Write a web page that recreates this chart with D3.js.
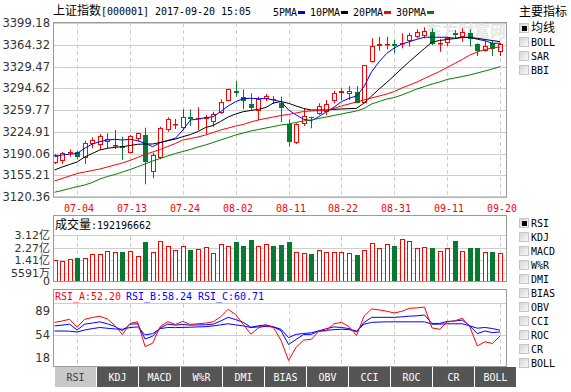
<!DOCTYPE html>
<html lang="zh">
<head>
<meta charset="UTF-8">
<title>上证指数 K线</title>
<script src="https://cdn.jsdelivr.net/npm/d3@7"></script>
<style>
    html, body { margin: 0; background: #fff; }
    svg { display: block; }
</style>
</head>
<body>
<div id="chart"></div>
<script>
// ---- data ----
const dates = ["06-29","06-30","07-03","07-04","07-05","07-06","07-07","07-10","07-11","07-12",
    "07-13","07-14","07-17","07-18","07-19","07-20","07-21","07-24","07-25","07-26",
    "07-27","07-28","07-31","08-01","08-02","08-03","08-04","08-07","08-08","08-09",
    "08-10","08-11","08-14","08-15","08-16","08-17","08-18","08-21","08-22","08-23",
    "08-24","08-25","08-28","08-29","08-30","08-31","09-01","09-04","09-05","09-06",
    "09-07","09-08","09-11","09-12","09-13","09-14","09-15","09-18","09-19","09-20"];

const open = [3175.4,3178.5,3190.4,3192.5,3182.4,3204.8,3203.7,3208.9,3201.3,3202.6,
    3191.4,3212.8,3219.7,3160.9,3182.4,3227.7,3236.2,3230.4,3248.1,3244.9,
    3244.9,3241.0,3254.5,3274.7,3289.7,3280.6,3268.9,3258.6,3276.9,3277.9,
    3270.5,3236.9,3206.4,3237.3,3248.6,3253.4,3257.0,3274.7,3287.5,3285.4,
    3289.1,3271.4,3337.2,3362.3,3363.4,3365.0,3365.5,3370.8,3377.2,3378.3,
    3385.2,3365.5,3367.6,3382.7,3376.3,3383.6,3365.5,3354.8,3366.6,3353.2];
const high = [3189.3,3192.5,3196.8,3194.1,3210.6,3216.0,3221.3,3222.4,3227.7,3217.0,
    3219.7,3223.4,3231.4,3191.4,3233.0,3248.1,3245.4,3260.9,3260.9,3264.1,
    3251.8,3257.0,3276.9,3293.9,3306.2,3292.9,3286.5,3281.1,3285.4,3282.2,
    3281.1,3244.9,3238.5,3262.5,3249.0,3270.5,3275.8,3290.7,3294.5,3298.2,
    3298.2,3331.9,3374.7,3377.2,3377.2,3371.9,3382.7,3383.6,3389.1,3392.3,
    3390.7,3373.1,3377.2,3387.9,3390.7,3389.1,3366.6,3370.8,3370.8,3367.6];
const low = [3173.3,3173.3,3184.9,3181.3,3173.3,3198.4,3195.7,3198.4,3197.3,3179.7,
    3190.1,3208.9,3140.7,3150.3,3180.8,3225.0,3229.3,3227.7,3234.2,3227.7,
    3221.3,3233.0,3253.4,3273.7,3281.1,3260.9,3259.8,3243.7,3274.2,3269.4,
    3240.5,3201.0,3205.3,3234.2,3230.4,3251.8,3251.8,3270.5,3275.8,3275.8,
    3270.5,3270.5,3335.6,3354.8,3357.0,3350.6,3358.6,3361.2,3374.7,3374.7,
    3363.9,3353.2,3362.3,3374.7,3369.2,3361.2,3346.3,3353.2,3346.3,3346.3];
const close = [3187.7,3191.4,3193.0,3184.0,3206.4,3211.7,3218.1,3213.3,3202.9,3198.4,
    3218.1,3222.4,3177.0,3187.7,3230.4,3244.9,3237.3,3249.0,3244.9,3246.5,
    3249.0,3252.9,3272.6,3292.9,3287.5,3274.7,3262.9,3277.9,3281.7,3275.8,
    3262.5,3208.9,3236.9,3250.2,3246.9,3266.6,3268.9,3286.5,3290.7,3289.7,
    3271.4,3331.9,3362.3,3365.5,3365.0,3362.8,3367.6,3379.9,3385.2,3386.8,
    3365.5,3367.6,3374.7,3380.4,3385.2,3373.1,3354.8,3362.3,3358.1,3365.5];

const ma5 = [3185.0,3187.7,3189.0,3190.1,3198.4,3205.3,3209.0,3211.7,3212.8,3211.7,
    3212.8,3210.6,3206.4,3201.0,3207.4,3210.9,3214.4,3227.7,3243.7,3245.4,
    3247.4,3249.0,3257.1,3266.2,3273.1,3277.9,3278.5,3277.9,3277.9,3275.8,
    3273.1,3259.8,3251.8,3244.9,3242.6,3249.0,3257.1,3264.1,3273.1,3278.5,
    3282.2,3297.1,3321.2,3337.2,3350.6,3359.1,3365.5,3369.2,3373.1,3376.3,
    3376.3,3376.3,3376.3,3374.7,3376.3,3376.3,3373.1,3370.8,3366.7,3366.7];
const ma10 = [3163.6,3168.4,3172.4,3176.5,3184.5,3190.1,3195.7,3198.4,3200.0,3201.0,
    3202.9,3204.8,3205.3,3205.3,3207.7,3210.6,3213.3,3217.0,3220.5,3225.3,
    3231.7,3234.9,3241.4,3248.6,3253.4,3257.1,3259.0,3260.9,3263.8,3271.0,
    3273.4,3270.5,3266.2,3262.2,3259.8,3259.8,3259.8,3260.6,3261.4,3261.9,
    3262.5,3271.0,3282.2,3293.4,3303.8,3315.1,3326.3,3337.5,3347.9,3358.3,
    3368.7,3371.1,3372.7,3374.3,3375.9,3375.9,3374.7,3372.7,3371.1,3369.2];
const ma20 = [3146.0,3150.0,3154.0,3158.0,3160.4,3162.8,3165.2,3168.4,3171.7,3174.9,
    3178.9,3183.7,3188.5,3192.5,3196.5,3201.3,3206.1,3211.7,3214.1,3216.5,
    3219.7,3223.7,3227.7,3230.9,3234.1,3236.5,3240.6,3243.8,3246.2,3248.6,
    3251.0,3252.6,3255.0,3257.4,3258.2,3258.7,3259.0,3262.2,3266.2,3269.4,
    3272.6,3275.8,3279.0,3282.2,3285.4,3289.4,3295.0,3299.8,3304.6,3310.3,
    3315.9,3321.5,3327.9,3334.3,3340.7,3347.9,3352.7,3356.7,3359.1,3360.7];
const ma30 = [3127.9,3130.8,3134.0,3136.9,3139.6,3143.6,3149.2,3153.2,3156.4,3160.4,
    3164.4,3168.8,3173.3,3178.1,3182.1,3186.1,3190.1,3193.3,3196.5,3200.5,
    3203.7,3207.7,3211.7,3215.7,3219.7,3222.9,3226.1,3228.5,3230.9,3233.3,
    3235.7,3237.3,3239.8,3242.2,3243.8,3246.2,3248.6,3251.0,3253.4,3255.8,
    3258.2,3262.2,3269.4,3273.4,3277.4,3279.8,3283.8,3288.6,3293.4,3297.4,
    3301.4,3304.6,3308.7,3311.1,3313.5,3315.9,3319.1,3322.3,3325.5,3329.2];

// 成交量, unit 亿
const volume = [1.443,1.396,1.490,1.577,1.557,1.825,1.825,2.026,1.959,1.959,
    2.026,1.691,2.650,1.959,2.697,2.382,2.093,2.382,2.114,2.160,
    2.295,1.912,2.516,2.382,2.650,2.382,2.784,2.382,2.516,2.382,
    2.449,2.650,1.959,1.892,1.845,2.093,1.959,1.959,1.959,1.892,
    1.778,2.093,2.563,2.228,2.496,2.382,2.831,2.697,2.228,2.295,
    2.228,2.026,2.228,2.717,2.026,2.228,2.228,1.959,1.959,1.92196662];
const lastVolume = "192196662";

const rsiA = [72,74,76.5,65,76.5,79,80.8,77,67.5,54.5,
    70.5,72.8,37,42,66,73,69,73.4,69,70,
    71,72.8,80,91,83,69,55,64,68,64.6,
    46,17,36,46.5,47.4,59,60,70,72,66,
    53,81,91.5,90,88.1,85.6,88,92.3,93,94,
    64,62.1,72.5,74.2,78,65.5,38,44,41.5,52.2];
const rsiB = [66.9,68,69.4,61,69.4,71,72.8,70,66,60,
    69.4,70,48,52,64,69.4,68,69,68,68.4,
    68.6,69.4,74,79.3,76,72,65,67,68.4,65.5,
    60,40,47.4,54.5,54.7,59.6,63,65.5,64.6,63.1,
    58.1,72,79.3,79.3,79.3,79.3,80,81,81.5,82.7,
    70.5,70.5,73.4,74,75.3,67,55.8,59.6,57.2,58.24];
const rsiC = [59.6,59.5,59.3,58.1,61,63,64.6,63.5,62.5,62.1,
    64.5,65.5,54,55.8,63,64.6,64.4,64.8,65,65.5,
    65.8,66.9,68.4,70,68.4,66.9,64.6,65.5,66,65.5,
    62.1,50,54.7,56,57,59.6,60.5,61.5,62.1,61.5,
    59.6,69.4,72,72.5,72.8,72.8,72.8,72.8,72.8,72.8,
    69.4,69.4,70,70,70,66.9,63.6,64.6,63.1,60.71];

const priceTicks = ["3399.18","3364.32","3329.47","3294.62","3259.77","3224.91","3190.06","3155.21","3120.36"];
const dateTicks = ["07-04","07-13","07-24","08-02","08-11","08-22","08-31","09-11","09-20"];
const volTicks = [3.12, 2.27, 1.41, 0.5591, 0];
const volTickLabels = ["3.12亿","2.27亿","1.41亿","5591万","0"];
const rsiTicks = [89, 54, 18];
const maNames = ["5PMA","10PMA","20PMA","30PMA"];
const mainIndicators = ["均线","BOLL","SAR","BBI"];
const subIndicators = ["RSI","KDJ","MACD","W%R","DMI","BIAS","OBV","CCI","ROC","CR","BOLL"];

const RED = "#f00", GREEN = "#077a32", BLUE = "#00f";
const maColors = [BLUE, "#000", RED, "#008000"];

const width = 571, height = 392;
const L = 53, R = 507;

const svg = d3.select("#chart").append("svg")
    .attr("width", width)
    .attr("height", height);

const defs = svg.append("defs");
const grad = defs.append("linearGradient").attr("id", "cb").attr("x1", 0).attr("y1", 0).attr("x2", 1).attr("y2", 1);
grad.append("stop").attr("offset", "0%").attr("stop-color", "#d4d4d4");
grad.append("stop").attr("offset", "100%").attr("stop-color", "#fbfbfb");

// mixed CJK / half-width text, like a bitmap SimSun font
function isWide(ch) { return /[\u3000-\u9fff\uff00-\uffef]/.test(ch); }
function drawText(g, str, x, y, opts = {}) {
    const runs = [];
    for (const ch of str) {
        const w = isWide(ch);
        if (runs.length && runs[runs.length - 1].wide === w) runs[runs.length - 1].s += ch;
        else runs.push({ wide: w, s: ch });
    }
    const grp = g.append("g");
    const cjk = opts.cjkSize || 12;
    let cx = 0;
    runs.forEach(r => {
        const t = grp.append("text").attr("x", cx).attr("y", 0).attr("dy", "0.36em")
            .attr("fill", opts.color || "#000").text(r.s);
        let w;
        if (r.wide) {
            t.attr("font-family", '"Noto Sans CJK SC", sans-serif').attr("font-size", cjk);
            w = r.s.length * cjk;
        } else if (opts.prop) {
            t.attr("font-family", '"DejaVu Sans", sans-serif').attr("font-size", opts.propSize || 11.5);
            w = t.node().getComputedTextLength();
        } else {
            w = r.s.length * 6;
            t.attr("font-family", '"DejaVu Sans Mono", monospace').attr("font-size", 11)
                .attr("textLength", w).attr("lengthAdjust", "spacingAndGlyphs");
        }
        cx += w;
    });
    const off = opts.anchor === "end" ? -cx : opts.anchor === "middle" ? -cx / 2 : 0;
    grp.attr("transform", `translate(${x + off},${y})`);
    return cx;
}

const x = d3.scalePoint().domain(dates).range([54.5, 500]);
const px = d => Math.round(x(d));

//=====================
// Main K-line panel
//=====================
const yP = d3.scaleLinear().domain([3120.36, 3399.18]).range([197, 23]);
const main = svg.append("g");

main.selectAll("line.h").data(priceTicks).join("line")
    .attr("x1", L).attr("x2", R)
    .attr("y1", d => Math.round(yP(+d)) + 0.5).attr("y2", d => Math.round(yP(+d)) + 0.5)
    .attr("stroke", "#cfcfcf");
main.selectAll("line.v").data(dateTicks).join("line")
    .attr("x1", d => px(d) + 0.5).attr("x2", d => px(d) + 0.5)
    .attr("y1", 23).attr("y2", 197)
    .attr("stroke", "#cfcfcf").attr("stroke-dasharray", "4,3");

main.selectAll("text.p").data(priceTicks).join("text")
    .attr("x", 50).attr("y", d => yP(+d)).attr("dy", "0.36em")
    .attr("text-anchor", "end")
    .attr("font-family", '"DejaVu Sans", sans-serif').attr("font-size", 11.5)
    .attr("fill", "#333").text(d => d);

dateTicks.forEach(d => drawText(main, d, px(d) + 2, 208, { anchor: "middle", color: RED }));

// watermark
main.append("text").attr("x", 506).attr("y", 37).attr("text-anchor", "end")
    .attr("font-family", '"Noto Sans CJK SC", sans-serif').attr("font-size", 16)
    .attr("font-weight", "bold").attr("fill", "#e6e6e6").text("东方财富网");

// candles
const candles = main.append("g");
dates.forEach((d, i) => {
    const cx = px(d);
    const up = close[i] >= open[i];
    const color = up ? RED : GREEN;
    const top = yP(Math.max(open[i], close[i])), bot = yP(Math.min(open[i], close[i]));
    candles.append("line")
        .attr("x1", cx + 0.5).attr("x2", cx + 0.5)
        .attr("y1", yP(high[i])).attr("y2", yP(low[i]))
        .attr("stroke", color);
    const h = Math.max(1, Math.round(bot) - Math.round(top));
    if (up) {
        candles.append("rect")
            .attr("x", cx - 1.5).attr("y", Math.round(top) + 0.5)
            .attr("width", 4).attr("height", Math.max(h - 1, 0.5))
            .attr("fill", "#fff").attr("stroke", color);
    } else {
        candles.append("rect")
            .attr("x", cx - 2).attr("y", Math.round(top))
            .attr("width", 5).attr("height", h)
            .attr("fill", color);
    }
});

// moving averages
[ma5, ma10, ma20, ma30].forEach((series, k) => {
    const line = d3.line().x((v, i) => x(dates[i])).y(v => yP(v));
    main.append("path").datum(series)
        .attr("d", line).attr("fill", "none")
        .attr("stroke", maColors[k]).attr("stroke-width", 1);
});

main.append("rect").attr("x", L + 0.5).attr("y", 22.5).attr("width", R - L - 1).attr("height", 174.5)
    .attr("fill", "none").attr("stroke", "#9a9a9a");

// title + legend
drawText(svg, "上证指数[000001] 2017-09-20 15:05", 53, 11);
let lx = 273;
maNames.forEach((n, k) => {
    lx += drawText(svg, n, lx, 12);
    svg.append("rect").attr("x", lx + 1).attr("y", 11).attr("width", 7).attr("height", 3)
        .attr("fill", maColors[k]);
    lx += 13;
});

//=====================
// Volume panel
//=====================
const yV = d3.scaleLinear().domain([0, 3.12]).range([281.5, 235]);
const vol = svg.append("g");
vol.selectAll("line.h").data(volTicks.slice(0, 4)).join("line")
    .attr("x1", L).attr("x2", R)
    .attr("y1", d => Math.round(yV(d)) + 0.5).attr("y2", d => Math.round(yV(d)) + 0.5)
    .attr("stroke", "#cfcfcf");
vol.selectAll("line.v").data(dateTicks).join("line")
    .attr("x1", d => px(d) + 0.5).attr("x2", d => px(d) + 0.5)
    .attr("y1", 236).attr("y2", 281)
    .attr("stroke", "#cfcfcf").attr("stroke-dasharray", "4,3");
volTicks.forEach((t, k) => drawText(vol, volTickLabels[k], 50, yV(t),
    { anchor: "end", prop: true, propSize: 11, cjkSize: 11, color: "#333" }));

dates.forEach((d, i) => {
    const cx = px(d);
    const up = close[i] >= open[i];
    const top = Math.round(yV(volume[i]));
    const bot = Math.round(yV(0));
    if (up) {
        vol.append("rect").attr("x", cx - 1.5).attr("y", top + 0.5)
            .attr("width", 4).attr("height", bot - top - 1)
            .attr("fill", "#fff").attr("stroke", RED);
    } else {
        vol.append("rect").attr("x", cx - 2).attr("y", top)
            .attr("width", 5).attr("height", bot - top)
            .attr("fill", GREEN);
    }
});
vol.append("rect").attr("x", L + 0.5).attr("y", 215.5).attr("width", R - L - 1).attr("height", 66)
    .attr("fill", "none").attr("stroke", "#9a9a9a");
drawText(vol, "成交量:" + lastVolume, 55, 225);

//=====================
// RSI panel
//=====================
const yR = d3.scaleLinear().domain([9, 100]).range([366, 303]);
const rsi = svg.append("g");
rsi.append("line").attr("x1", L).attr("x2", R).attr("y1", 303.5).attr("y2", 303.5).attr("stroke", "#cfcfcf");
rsi.append("line").attr("x1", L).attr("x2", R)
    .attr("y1", Math.round(yR(54)) + 0.5).attr("y2", Math.round(yR(54)) + 0.5).attr("stroke", "#cfcfcf");
rsi.selectAll("line.v").data(dateTicks).join("line")
    .attr("x1", d => px(d) + 0.5).attr("x2", d => px(d) + 0.5)
    .attr("y1", 304).attr("y2", 366)
    .attr("stroke", "#cfcfcf").attr("stroke-dasharray", "4,3");
rsi.selectAll("text.r").data(rsiTicks).join("text")
    .attr("x", 50).attr("y", d => yR(d) - (d === 18 ? 2 : 0)).attr("dy", "0.36em").attr("text-anchor", "end")
    .attr("font-family", '"DejaVu Sans", sans-serif').attr("font-size", 11.5)
    .attr("fill", "#333").text(d => d);

[[rsiC, BLUE], [rsiB, BLUE], [rsiA, RED]].forEach(([series, c]) => {
    const line = d3.line().x((v, i) => x(dates[i])).y(v => yR(v));
    rsi.append("path").datum(series).attr("d", line)
        .attr("fill", "none").attr("stroke", c).attr("stroke-width", 1);
});
rsi.append("rect").attr("x", L + 0.5).attr("y", 289.5).attr("width", R - L - 1).attr("height", 77)
    .attr("fill", "none").attr("stroke", "#9a9a9a");
drawText(rsi, "RSI_A:" + rsiA[59].toFixed(2), 55, 296, { color: RED });
drawText(rsi, "RSI_B:" + rsiB[59].toFixed(2), 126, 296, { color: BLUE });
drawText(rsi, "RSI_C:" + rsiC[59].toFixed(2), 198, 296, { color: BLUE });

// tabs
subIndicators.forEach((n, k) => {
    const tx = 55 + k * 42;
    svg.append("rect").attr("x", tx).attr("y", 367).attr("width", 41).attr("height", 20)
        .attr("fill", k === 0 ? "#c8c8c8" : "#555");
    drawText(svg, n, tx + 20.5, 377, { anchor: "middle", color: k === 0 ? "#444" : "#fff" });
});

//=====================
// Right side option lists
//=====================
function checkbox(y, label, checked) {
    svg.append("rect").attr("x", 519.5).attr("y", y - 4.5).attr("width", 9).attr("height", 9)
        .attr("fill", "url(#cb)").attr("stroke", "#c6c6c6");
    if (checked) svg.append("rect").attr("x", 522).attr("y", y - 2).attr("width", 5).attr("height", 5).attr("fill", "#000");
    drawText(svg, label, 531, y);
}
drawText(svg, "主要指标", 519, 12);
mainIndicators.forEach((n, k) => checkbox(28 + k * 14, n, k === 0));
subIndicators.forEach((n, k) => checkbox(223 + k * 14, n, k === 0));
</script>
</body>
</html>
